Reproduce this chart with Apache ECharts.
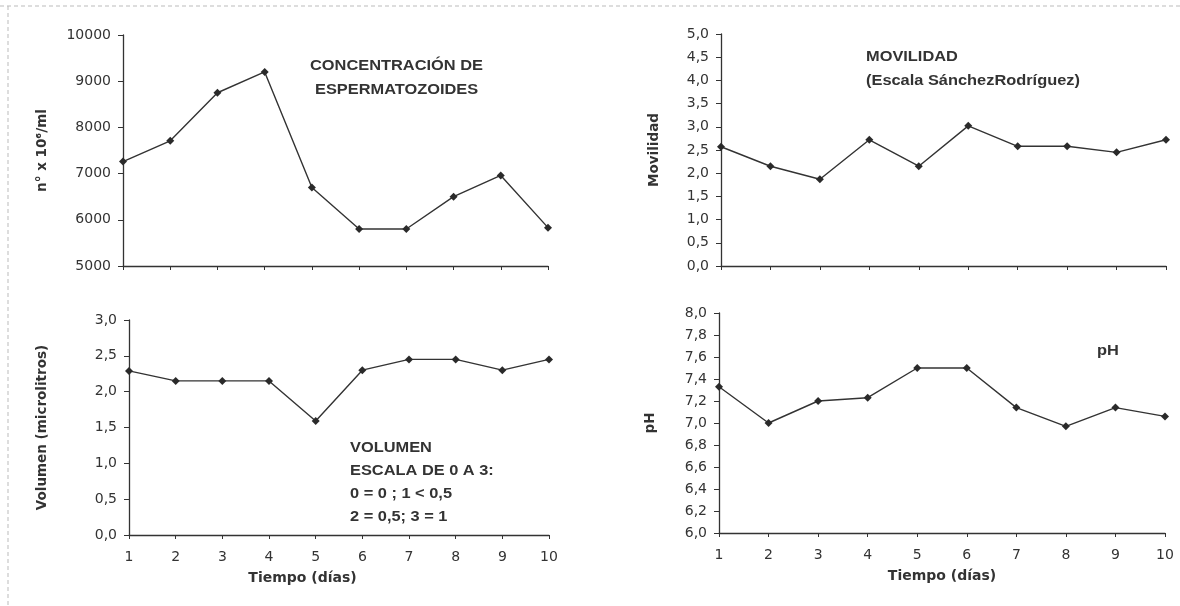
<!DOCTYPE html>
<html>
<head>
<meta charset="utf-8">
<script src="https://cdn.jsdelivr.net/npm/echarts@6/dist/echarts.min.js"></script>
<style>
html,body{margin:0;padding:0;background:#fff;}
#c{width:1180px;height:606px;}
</style>
</head>
<body>
<div id="c"></div>
<script>
const days = ['1','2','3','4','5','6','7','8','9','10'];
const concentracion = [7260, 7710, 8750, 9200, 6700, 5800, 5800, 6500, 6960, 5830];
const movilidad = [2.57, 2.15, 1.87, 2.72, 2.15, 3.02, 2.58, 2.58, 2.45, 2.72];
const volumen = [2.29, 2.15, 2.15, 2.15, 1.59, 2.3, 2.45, 2.45, 2.3, 2.45];
const ph = [7.33, 7.0, 7.2, 7.23, 7.5, 7.5, 7.14, 6.97, 7.14, 7.06];

const NUMFONT = 'DejaVu Sans';
const TXTFONT = 'Liberation Sans';
const TXT = '#333';
const LINE = '#333';
const comma = v => (Math.round(v*10)/10).toFixed(1).replace('.', ',');

function xAxis(idx, showLabels, namePad) {
  return {
    type: 'category', gridIndex: idx, data: days, boundaryGap: false,
    axisLine: {lineStyle: {color: LINE, width: 1.3}},
    axisTick: {show: true, alignWithLabel: true, length: 4, lineStyle: {color: LINE}},
    axisLabel: {show: showLabels, color: TXT, fontFamily: NUMFONT, fontSize: 14, margin: 15},
    splitLine: {show: false},
    name: showLabels ? 'Tiempo (días)' : '', nameLocation: 'middle', nameGap: 36,
    nameTextStyle: {color: TXT, fontFamily: NUMFONT, fontSize: 14, fontWeight: 'bold', padding: namePad || 0}
  };
}
function yAxis(idx, min, max, interval, name, gap, fmt) {
  return {
    type: 'value', gridIndex: idx, min: min, max: max, interval: interval,
    axisLine: {show: true, lineStyle: {color: LINE, width: 1.3}},
    axisTick: {show: true, length: 5, lineStyle: {color: LINE}},
    axisLabel: {color: TXT, fontFamily: NUMFONT, fontSize: 14, margin: 12, formatter: fmt},
    splitLine: {show: false},
    name: name, nameLocation: 'middle', nameGap: gap,
    nameTextStyle: {color: TXT, fontFamily: NUMFONT, fontSize: 13.5, fontWeight: 'bold'}
  };
}
function series(idx, data) {
  return {
    type: 'line', xAxisIndex: idx, yAxisIndex: idx, data: data,
    symbol: 'diamond', symbolSize: 8, showSymbol: true,
    lineStyle: {color: LINE, width: 1.4},
    itemStyle: {color: '#2a2a2a'},
    animation: false
  };
}
function txt(x, ys, lines) {
  return lines.map((t, i) => ({
    type: 'text', x: x, y: ys[i], scaleX: 1.17,
    style: {text: t, x: 0, y: 0, align: 'left', verticalAlign: 'middle',
            fill: TXT, font: 'bold 14px "' + TXTFONT + '"'}
  }));
}

const chart = echarts.init(document.getElementById('c'), null, {renderer: 'canvas'});
chart.setOption({
  backgroundColor: '#fff',
  animation: false,
  grid: [
    {left: 123, top: 35, right: 632, height: 231},
    {left: 721, top: 34, right: 14, height: 232},
    {left: 129, top: 320, right: 631, height: 215},
    {left: 719, top: 313, right: 15, height: 220}
  ],
  xAxis: [xAxis(0, false), xAxis(1, false), xAxis(2, true, [0, 73, 0, 0]), xAxis(3, true)],
  yAxis: [
    yAxis(0, 5000, 10000, 1000, 'n° x 10⁶/ml', 74, v => String(v)),
    yAxis(1, 0, 5, 0.5, 'Movilidad', 60, comma),
    yAxis(2, 0, 3, 0.5, 'Volumen (microlitros)', 80, comma),
    yAxis(3, 6, 8, 0.2, 'pH', 62, comma)
  ],
  series: [series(0, concentracion), series(1, movilidad), series(2, volumen), series(3, ph)],
  graphic: [
    {type: 'line', shape: {x1: 0, y1: 6, x2: 1180, y2: 6}, style: {stroke: '#bbb', lineWidth: 1, lineDash: [4, 3]}},
    {type: 'line', shape: {x1: 8, y1: 6, x2: 8, y2: 606}, style: {stroke: '#bbb', lineWidth: 1, lineDash: [4, 3]}},
    ...txt(310, [66.5], ['CONCENTRACIÓN DE']),
    ...txt(315, [90], ['ESPERMATOZOIDES']),
    ...txt(866, [57, 81], ['MOVILIDAD', '(Escala SánchezRodríguez)']),
    ...txt(350, [448, 471, 494, 517], ['VOLUMEN', 'ESCALA DE 0 A 3:', '0 = 0 ; 1 < 0,5', '2 = 0,5; 3 = 1']),
    ...txt(1097, [351], ['pH'])
  ]
});
</script>
</body>
</html>
